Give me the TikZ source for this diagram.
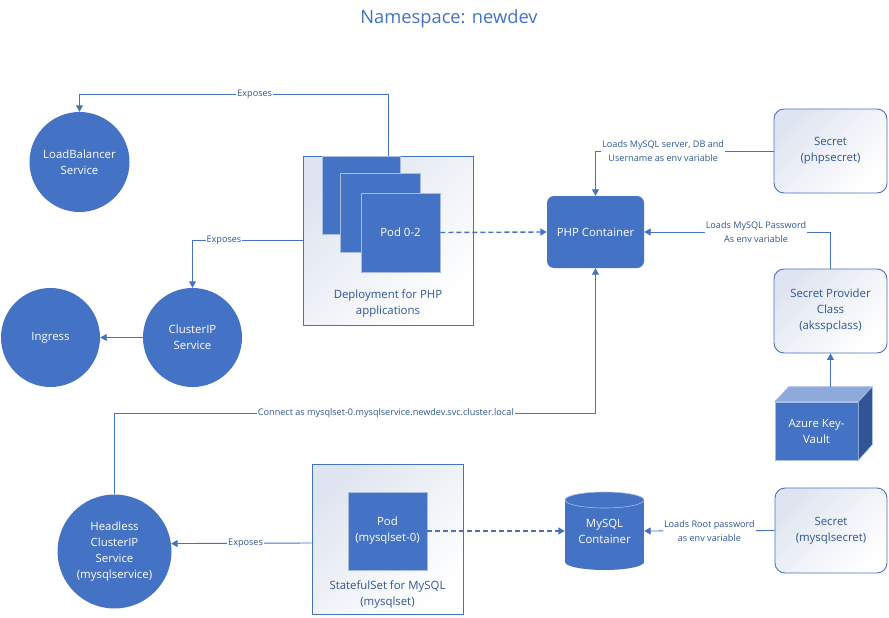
\documentclass[tikz,border=0pt]{standalone}
\usepackage{fontspec}
\setmainfont{Open Sans}
\usetikzlibrary{arrows.meta,calc}
\definecolor{blu}{HTML}{4472C4}
\definecolor{txt}{HTML}{2F5597}
\definecolor{shd}{HTML}{DFE5F0}
\definecolor{cubetop}{HTML}{8EA9DB}
\definecolor{cubeside}{HTML}{2F5597}
\definecolor{edge}{HTML}{A9BDE3}
\newcommand\nodefont{\fontsize{11.4}{16}\selectfont}
\newcommand\lblfont{\fontsize{9.1}{14}\selectfont}
\begin{document}
\begin{tikzpicture}[x=1pt,y=-1pt,
  circnode/.style={circle, fill=blu, text=white, inner sep=0pt, minimum size=#1, align=center, font=\nodefont},
  podbox/.style={rectangle, fill=blu, draw=edge, line width=0.8pt, text=white, inner sep=0pt, align=center, font=\nodefont},
  bluebox/.style={rectangle, fill=blu, text=white, inner sep=0pt, align=center, font=\nodefont},
  lightbox/.style={rectangle, draw=blu, line width=0.9pt, top color=shd, bottom color=white, shading angle=45, text=txt, inner sep=0pt, align=center, font=\nodefont},
  lighttext/.style={text=txt, align=center, font=\nodefont, inner sep=0pt},
  conn/.style={draw=blu, line width=0.9pt, -{Triangle[width=7pt,length=6.5pt]}},
  dashconn/.style={conn, line width=1.4pt, dash pattern=on 5pt off 3pt},
  lbl/.style={fill=white, text=txt, font=\lblfont, inner sep=1pt, align=center}]
\useasboundingbox (0,0) rectangle (889,618);
\fill[white] (0,0) rectangle (889,618);

% title
\node[font=\fontsize{18.3}{22}\selectfont, text=blu] (title) at (449,19) {Namespace: newdev};

% circles
\node[circnode=100] (lb) at (79.5,162) {LoadBalancer\\Service};
\node[circnode=99] (ing) at (50.5,337.5) {Ingress};
\node[circnode=99] (cip) at (192.5,337.5) {ClusterIP\\Service};
\node[circnode=114] (hl) at (114.5,551.5) {Headless\\ClusterIP\\Service\\(mysqlservice)};

% deployment
\node[lightbox, minimum width=170pt, minimum height=169pt] (dep) at (388,240.5) {};
\node[podbox, minimum width=78pt, minimum height=78pt] (p1) at (361,195) {};
\node[podbox, minimum width=80pt, minimum height=79pt] (p2) at (380,212.5) {};
\node[podbox, minimum width=79pt, minimum height=79pt] (p3) at (400.5,232.5) {Pod 0-2};
\node[lighttext] (deptxt) at (388,304) {Deployment for PHP\\applications};

% php container
\node[bluebox, rounded corners=7pt, minimum width=97pt, minimum height=72pt] (php) at (595.5,232) {PHP Container};

% secrets
\node[lightbox, rounded corners=10pt, minimum width=113pt, minimum height=84pt] (phps) at (830.5,151) {Secret\\(phpsecret)};
\node[lightbox, rounded corners=10pt, minimum width=113pt, minimum height=84pt] (spc) at (830.5,311) {Secret Provider\\Class\\(aksspclass)};
\node[lightbox, rounded corners=10pt, minimum width=112pt, minimum height=85pt] (mys) at (831,530.5) {Secret\\(mysqlsecret)};

% key vault cube
\node[bluebox, draw=edge, line width=0.6pt, minimum width=83pt, minimum height=58pt] (kv) at (816.5,431) {Azure Key-\\Vault};
\filldraw[fill=cubetop, draw=edge, line width=0.6pt] (kv.north west) -- ++(14,-15) -- ++(83,0) -- (kv.north east) -- cycle;
\filldraw[fill=cubeside, draw=edge, line width=0.6pt] (kv.north east) -- ++(14,-15) -- ++(0,58) -- (kv.south east) -- cycle;
\coordinate (kvtop) at (830.5,387);

% statefulset
\node[lightbox, minimum width=151pt, minimum height=150pt] (ss) at (387.5,539) {};
\node[podbox, minimum width=79pt, minimum height=78pt] (pm) at (387.5,531) {Pod\\(mysqlset-0)};
\node[lighttext] (sstxt) at (387.5,595) {StatefulSet for MySQL\\(mysqlset)};

% mysql cylinder
\fill[blu] (565,500) rectangle (644,562);
\fill[blu] (604.5,562) ellipse [x radius=39.5, y radius=8];
\filldraw[fill=blu, draw=edge, line width=0.6pt] (604.5,500) ellipse [x radius=39.5, y radius=8];
\node[text=white, align=center, font=\nodefont, inner sep=0pt, minimum width=79pt, minimum height=78pt] (my) at (604.5,531) {MySQL\\Container};

% connectors
\draw[conn] (dep.north) -- ++(0,-61) -| (lb.north) node[lbl, pos=0.216] {Exposes};
\draw[conn] (dep.west) -| (cip.north) node[lbl, pos=0.357] {Exposes};
\draw[conn] (cip.west) -- (ing.east);
\draw[dashconn] (p3.east) -- (php.west);
\draw[conn] (phps.west) -| (php.north) node[lbl, pos=0.31] {Loads MySQL server, DB and\\Username as env variable};
\draw[conn] (spc.north) |- (php.east) node[lbl, pos=0.7] {Loads MySQL Password\\As env variable};
\draw[conn] (kvtop) -- (spc.south);
\draw[conn] (hl.north) -- ++(0,-81) -| (php.south) node[lbl, pos=0.282] {Connect as mysqlset-0.mysqlservice.newdev.svc.cluster.local};
\draw[conn] ([yshift=-4pt]ss.west) -- (hl.8) node[lbl, pos=0.47] {Exposes};
\draw[dashconn] (pm.east) -- (my.west);
\draw[conn] (mys.west) -- (my.east) node[lbl, pos=0.5] {Loads Root password\\as env variable};
\end{tikzpicture}
\end{document}
